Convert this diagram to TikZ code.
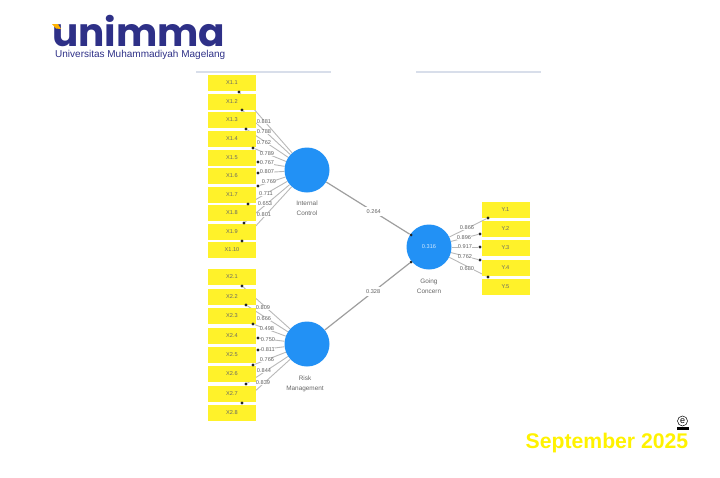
\documentclass[tikz,border=0pt]{standalone}
\usepackage{fontspec}
\setmainfont{Liberation Sans}
\newfontfamily\logofont{Poppins}
\usetikzlibrary{backgrounds}
\definecolor{boxyellow}{HTML}{FFF22A}
\definecolor{blobblue}{HTML}{2291F5}
\definecolor{logoblue}{HTML}{2E3087}
\definecolor{ruleblue}{HTML}{D8DEEA}
\tikzset{
    indicator/.style={fill=boxyellow,minimum width=48pt,minimum height=16pt,inner sep=0pt,font=\fontsize{5.6}{6}\selectfont,text=black!60},
    construct/.style={circle,fill=blobblue,minimum size=45pt,inner sep=0pt},
    loading/.style={font=\fontsize{5.6}{6}\selectfont,text=black!62,fill=white,inner sep=0.3pt},
    caption/.style={font=\fontsize{6.4}{10.5}\selectfont,text=black!60,align=center},
    link/.style={draw=black!28,line width=0.9pt},
    path/.style={draw=black!38,line width=1.2pt},
    tipmark/.style={circle,fill=black!85,minimum size=3.4pt,inner sep=0pt},
}
\begin{document}
\begin{tikzpicture}[x=1pt,y=-1pt]
    \useasboundingbox (0, 0) rectangle (720, 477);

    % Logo
    \node[anchor=base west,inner sep=0pt,text=logoblue] (logo) at (52, 46.5) {\logofont\bfseries\fontsize{39}{39}\selectfont unimma};
    \node[anchor=base west,inner sep=0pt,text=logoblue] (uni) at (55, 57.5) {\fontsize{10}{10}\selectfont Universitas Muhammadiyah Magelang};
    \fill[orange!60!yellow] (52, 24) -- (58, 24) -- (61, 29) -- (56, 28.5) -- cycle;

    % Header rules
    \draw[ruleblue,line width=1.2pt] (196, 72) -- (331, 72);
    \draw[ruleblue,line width=1.2pt] (416, 72) -- (541, 72);

    % Constructs
    \node[construct] (control) at (307, 170) {};
    \node[construct] (risk) at (307, 344) {};
    \node[construct,text=white!80!blobblue,font=\fontsize{5.6}{6}\selectfont] (going) at (429, 247) {0.316};
    \node[caption,anchor=north] (controltxt) at (307, 197) {Internal\\Control};
    \node[caption,anchor=north] (risktxt) at (305, 372) {Risk\\Management};
    \node[caption,anchor=north] (goingtxt) at (429, 275) {Going\\Concern};

    % Internal Control
    \foreach \id/\cy/\tx/\ty/\lab/\lx/\ly in {
        1/83/239/92/0.881/264/122, 2/102/242/110/0.788/264/132,
        3/120/246/129/0.762/264/143, 4/139/253/148/0.789/267/154,
        5/158/258/162/0.767/267/163, 6/176/258/173/0.807/267/172,
        7/195/258/186/0.769/269/182, 8/213/248/204/0.711/266/194,
        9/232/244/223/0.653/265/204, 10/250/242/241/0.801/264/215} {
        \node[indicator] (xa\id) at (232, \cy) {X1.\id};
        \node[tipmark] (xatip\id) at (\tx, \ty) {};
        \begin{scope}[on background layer]
            \draw[link] (control) -- (xatip\id);
        \end{scope}
        \node[loading] (xalab\id) at (\lx, \ly) {\lab};
    }

    % Risk Management
    \foreach \id/\cy/\tx/\ty/\lab/\lx/\ly in {
        1/277/242/286/0.809/263/308, 2/297/246/305/0.666/264/319,
        3/316/253/324/0.498/267/329, 4/336/258/338/0.750/268/340,
        5/355/258/350/0.811/268/350, 6/374/253/365/0.766/267/360,
        7/394/246/384/0.844/264/371, 8/413/242/403/0.839/263/383} {
        \node[indicator] (xb\id) at (232, \cy) {X2.\id};
        \node[tipmark] (xbtip\id) at (\tx, \ty) {};
        \begin{scope}[on background layer]
            \draw[link] (risk) -- (xbtip\id);
        \end{scope}
        \node[loading] (xblab\id) at (\lx, \ly) {\lab};
    }

    % Going Concern
    \foreach \id/\cy/\tx/\ty/\lab/\lx/\ly in {
        1/210/488/218/0.866/467/228, 2/229/480/234/0.896/464/238,
        3/248/480/247/0.917/465/247, 4/268/480/260/0.762/465/257,
        5/287/488/277/0.680/467/269} {
        \node[indicator] (yy\id) at (505.5, \cy) {Y.\id};
        \node[tipmark] (yytip\id) at (\tx, \ty) {};
        \begin{scope}[on background layer]
            \draw[link] (going) -- (yytip\id);
        \end{scope}
        \node[loading] (yylab\id) at (\lx, \ly) {\lab};
    }

    % Paths
    \node[tipmark,minimum size=3pt] (tipa) at (411, 235) {};
    \node[tipmark,minimum size=3pt] (tipb) at (411, 262) {};
    \draw[path] (control) -- (tipa) node[pos=0.57,loading,inner sep=2.5pt] (pathtxta) {0.264};
    \draw[path] (risk) -- (tipb) node[pos=0.57,loading,inner sep=2.5pt] (pathtxtb) {0.328};

    % Date
    \node[anchor=base east,inner sep=0pt,text=yellow,font=\bfseries\fontsize{21.2}{21.2}\selectfont] (date) at (688.5, 448) {September 2025};
    \node[circle,draw=black,line width=0.5pt,inner sep=0.2pt,minimum size=10pt,font=\fontsize{9}{9}\selectfont] (mark) at (682.5, 421) {e};
    \fill[black] (676.5, 426.5) rectangle (689, 429.5);
\end{tikzpicture}
\end{document}
